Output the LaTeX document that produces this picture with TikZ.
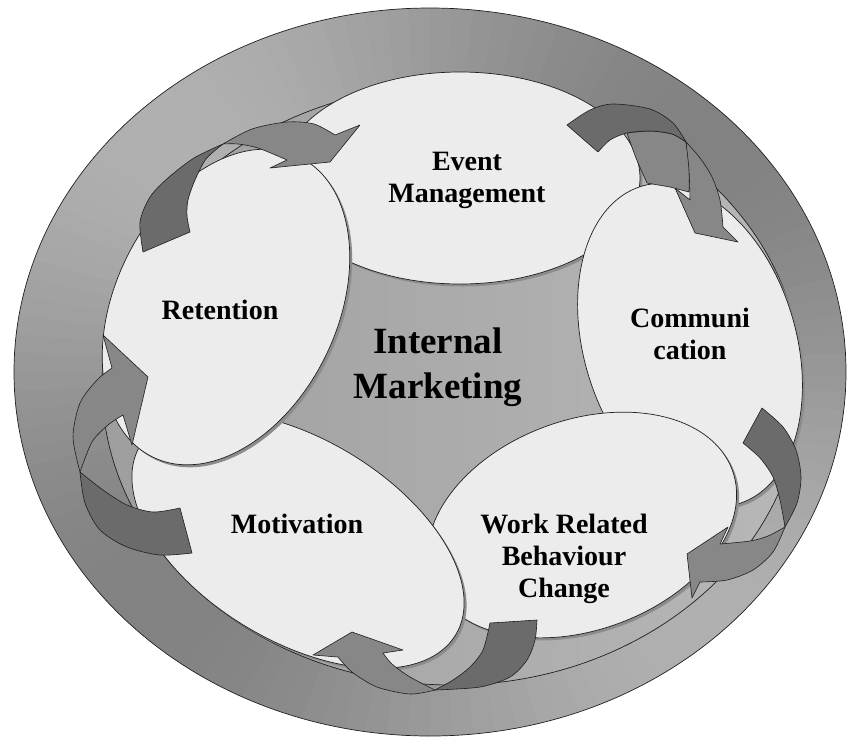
\documentclass[tikz,border=0pt]{standalone}
\usepackage{fontspec}
\setmainfont{Liberation Serif}
\definecolor{petalfill}{gray}{0.925}
\definecolor{petalshade}{gray}{0.55}
\definecolor{innerL}{gray}{0.62}
\definecolor{innerR}{gray}{0.72}
\definecolor{arrowdark}{gray}{0.42}
\definecolor{arrowmid}{gray}{0.53}
\definecolor{edgecol}{gray}{0.12}
\tikzset{
  petal/.style={fill=petalfill, draw=edgecol, line width=0.7pt},
  petalshadow/.style={fill=petalshade},
  arrowdk/.style={fill=arrowdark, draw=edgecol, line width=0.6pt, line join=round},
  arrowmd/.style={fill=arrowmid, draw=edgecol, line width=0.6pt, line join=round},
  lbl/.style={font=\fontsize{28}{32}\selectfont\bfseries, align=center, text=black},
  biglbl/.style={font=\fontsize{37}{45}\selectfont\bfseries, align=center, text=black},
}
\newcommand\drawpetal[5]{%
  \fill[petalshadow, shift={(2.5,2.5)}, rotate around={#5:(#1,#2)}] (#1,#2) ellipse [x radius=#3, y radius=#4];
  \filldraw[petal, rotate around={#5:(#1,#2)}] (#1,#2) ellipse [x radius=#3, y radius=#4];
}
\begin{document}
\begin{tikzpicture}[x=1pt, y=-1pt]
\useasboundingbox (0,0) rectangle (848,740);
% outer ring with angular grey variation
\foreach \a in {0,3,...,357}{
  \pgfmathsetmacro{\g}{60+9*cos(2*(-\a-135))}
  \fill[white!\g!black] (430,372) -- ++(\a:416 and 364) arc[start angle=\a, end angle=\a+3.6, x radius=416, y radius=364] -- cycle;
}
\draw[edgecol, line width=0.7pt] (430,372) ellipse [x radius=416, y radius=364];
% inner disk
\draw[edgecol, line width=0.7pt, left color=innerL, right color=innerR] (452,385) ellipse [x radius=350, y radius=300];
% petals
\drawpetal{460}{178}{180}{106}{0}
\drawpetal{690}{345}{166}{106}{-73}
\drawpetal{582}{525}{160}{105}{20}
\drawpetal{298}{540}{184}{101}{-31}
\drawpetal{226}{307}{167}{111}{64}
% arrow 1: Retention -> Event
\filldraw[arrowdk] plot[smooth] coordinates {(143,252) (140,222) (150,197) (168,178) (194,158) (223,144)} -- plot[smooth] coordinates {(223,144) (206,159) (195,180) (188,200) (187,216) (190,232)} -- cycle;
\filldraw[arrowmd] plot[smooth] coordinates {(223,144) (252,129) (287,122) (314,124) (335,135)} -- (360,125) -- (330,162) -- (270,168) -- (287,160) -- plot[smooth] coordinates {(287,160) (258,148) (238,144) (223,144)} -- cycle;
% arrow 2: Event -> Communication
\filldraw[arrowmd] plot[smooth] coordinates {(627,133) (650,131) (672,134) (686,142)} -- plot[smooth] coordinates {(686,142) (689,165) (689,192)} -- (670,187) -- (647,183) -- plot[smooth] coordinates {(647,183) (636,158) (627,133)} -- cycle;
\filldraw[arrowdk] plot[smooth] coordinates {(567,125) (590,110) (613,104) (650,109) (673,123) (686,142)} -- plot[smooth] coordinates {(686,142) (672,134) (650,131) (627,133) (610,140) (598,152)} -- cycle;
\filldraw[arrowmd] plot[smooth] coordinates {(686,142) (700,158) (712,177) (720,200) (723,227)} -- (738,242) -- (695,233) -- (675,188) -- (690,200) -- plot[smooth] coordinates {(690,200) (689,170) (686,142)} -- cycle;
% arrow 3: Communication -> Work
\filldraw[arrowdk] plot[smooth] coordinates {(762,408) (783,427) (796,450) (801,477) (797,503) (785,527)} -- plot[smooth] coordinates {(785,527) (780,500) (773,477) (760,458) (743,443)} -- cycle;
\filldraw[arrowmd] plot[smooth] coordinates {(785,527) (768,536) (750,541) (720,544)} -- (728,527) -- (687,554) -- (692,598) -- (700,582) -- plot[smooth] coordinates {(700,582) (727,580) (753,570) (773,552) (785,527)} -- cycle;
% arrow 4: Work -> Motivation
\filldraw[arrowdk] plot[smooth] coordinates {(537,620) (535,640) (527,660) (510,677) (480,687) (435,690)} -- plot[smooth] coordinates {(435,690) (453,680) (470,667) (483,650) (490,623)} -- cycle;
\filldraw[arrowmd] plot[smooth] coordinates {(435,690) (410,677) (392,664) (383,653)} -- (403,650) -- (352,632) -- (313,655) -- (338,657) -- plot[smooth] coordinates {(338,657) (352,672) (377,687) (410,694) (435,690)} -- cycle;
% arrow 5: Motivation -> Retention
\filldraw[arrowdk] plot[smooth] coordinates {(192,553) (160,555) (127,547) (100,530) (85,503) (80,472)} -- plot[smooth] coordinates {(80,472) (103,490) (127,505) (153,512) (180,508)} -- cycle;
\filldraw[arrowmd] plot[smooth] coordinates {(80,472) (73,437) (80,403) (97,380) (112,368)} -- (103,335) -- (148,377) -- (132,445) -- (123,415) -- plot[smooth] coordinates {(123,415) (108,425) (92,442) (80,472)} -- cycle;
% labels
\node[lbl] (event) at (467,180) {Event\\Management};
\node[lbl] (retention) at (220,310) {Retention};
\node[biglbl] (im) at (438,367) {Internal\\Marketing};
\node[lbl] (comm) at (690,334) {Communi\\cation};
\node[lbl] (work) at (564,559) {Work Related\\Behaviour\\Change};
\node[lbl] (motiv) at (297,524) {Motivation};
\end{tikzpicture}
\end{document}
